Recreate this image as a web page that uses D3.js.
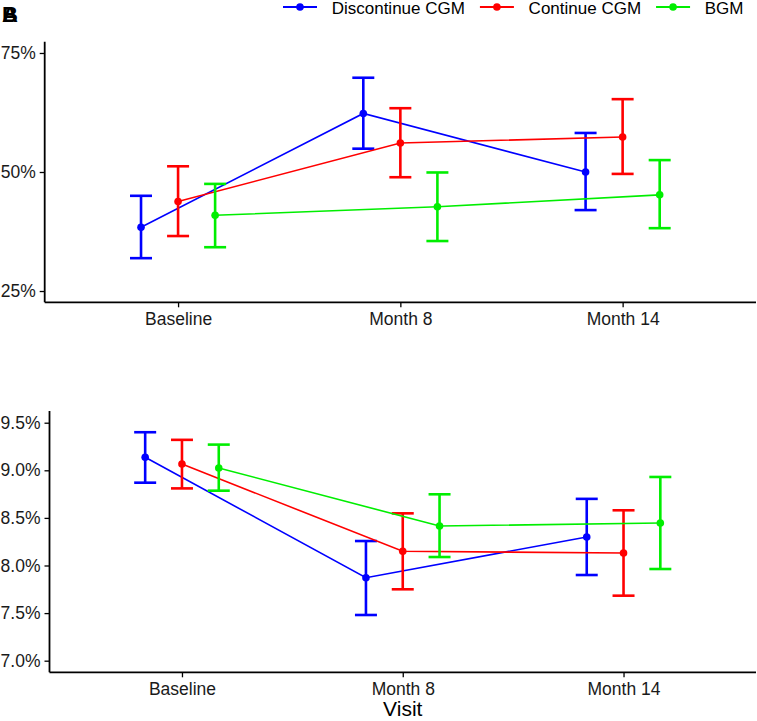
<!DOCTYPE html>
<html><head><meta charset="utf-8">
<script src="https://cdn.jsdelivr.net/npm/d3@7"></script>
<style>
html,body{margin:0;padding:0;background:#fff;}
svg{display:block;font-family:"Liberation Sans",Arial,sans-serif;}
</style></head>
<body><svg id="c" width="757" height="721"></svg>
<script>
// ---- data ----
const visits = ["Baseline", "Month 8", "Month 14"];
const seriesNames = ["Discontinue CGM", "Continue CGM", "BGM"];
const seriesColors = ["#0000ff", "#ff0000", "#00ee00"];

// Panel A: percentage (top)
const topMean  = { "Discontinue CGM": [38.4, 62.3, 50.0], "Continue CGM": [43.8, 56.1, 57.35], "BGM": [40.9, 42.7, 45.2] };
const topLower = { "Discontinue CGM": [31.9, 54.9, 42.0], "Continue CGM": [36.55, 48.9, 49.6], "BGM": [34.2, 35.5, 38.2] };
const topUpper = { "Discontinue CGM": [45.0, 69.8, 58.2], "Continue CGM": [51.2, 63.4, 65.3], "BGM": [47.5, 49.9, 52.5] };
const topTicks = [25, 50, 75];
const topTickLabels = ["25%", "50%", "75%"];

// Panel B: HbA1c (bottom)
const botMean  = { "Discontinue CGM": [9.137, 7.872, 8.30], "Continue CGM": [9.066, 8.149, 8.131], "BGM": [9.024, 8.415, 8.446] };
const botLower = { "Discontinue CGM": [8.87, 7.48, 7.90], "Continue CGM": [8.81, 7.75, 7.683], "BGM": [8.786, 8.089, 7.963] };
const botUpper = { "Discontinue CGM": [9.40, 8.257, 8.70], "Continue CGM": [9.32, 8.548, 8.58], "BGM": [9.27, 8.748, 8.93] };
const botTicks = [7.0, 7.5, 8.0, 8.5, 9.0, 9.5];
const botTickLabels = ["7.0%", "7.5%", "8.0%", "8.5%", "9.0%", "9.5%"];

const xTitle = "Visit";

const svg = d3.select("#c");
const color = d3.scaleOrdinal(seriesNames, seriesColors);

function panel(cfg) {
  const g = svg.append("g");
  const x = d3.scalePoint(visits, [cfg.left, cfg.right]).padding(0.6);
  const dodge = x.step() / 6;
  const xd = d3.scalePoint(seriesNames, [-dodge, dodge]);
  const y = d3.scaleLinear(cfg.domain, [cfg.bottom, cfg.top]);

  const ya = d3.axisLeft(y).tickValues(cfg.ticks).tickFormat((d, i) => cfg.tickLabels[i]).tickSizeInner(5).tickSizeOuter(0).tickPadding(4);
  const yg = g.append("g").attr("transform", `translate(${cfg.left},0)`).call(ya);
  const xa = d3.axisBottom(x).tickSizeInner(5).tickSizeOuter(0).tickPadding(5);
  const xg = g.append("g").attr("transform", `translate(0,${cfg.bottom})`).call(xa);
  [yg, xg].forEach(a => {
    a.select(".domain").attr("stroke", "#000").attr("stroke-width", 1.8);
    a.selectAll(".tick line").attr("stroke", "#000").attr("stroke-width", 1.3);
    a.selectAll(".tick text").attr("fill", "#1a1a1a").style("font-size", "17.5px").style("font-family", "Liberation Sans, Arial, sans-serif");
  });
  yg.select(".domain").attr("d", `M0,${cfg.top}V${cfg.bottom}`);
  xg.select(".domain").attr("d", `M${cfg.left},0H${cfg.right}`);

  const line = d3.line().x(d => d.x).y(d => d.y);
  seriesNames.forEach(s => {
    const pts = visits.map((v, i) => ({
      x: x(v) + xd(s), y: y(cfg.mean[s][i]), lo: y(cfg.lower[s][i]), hi: y(cfg.upper[s][i])
    }));
    g.append("path").attr("d", line(pts)).attr("fill", "none").attr("stroke", color(s)).attr("stroke-width", 1.6);
    const eb = g.append("g").attr("stroke", color(s)).attr("stroke-width", 2.6).attr("fill", "none");
    pts.forEach(p => {
      eb.append("line").attr("x1", p.x).attr("x2", p.x).attr("y1", p.lo).attr("y2", p.hi);
      eb.append("line").attr("x1", p.x - 11).attr("x2", p.x + 11).attr("y1", p.lo).attr("y2", p.lo);
      eb.append("line").attr("x1", p.x - 11).attr("x2", p.x + 11).attr("y1", p.hi).attr("y2", p.hi);
    });
    g.append("g").selectAll("circle").data(pts).join("circle")
      .attr("cx", d => d.x).attr("cy", d => d.y).attr("r", 3.8).attr("fill", color(s));
  });
  return { x, y };
}

panel({ left: 44.7, right: 756, top: 41.7, bottom: 302.3, domain: [22.63, 77.37],
        ticks: topTicks, tickLabels: topTickLabels, mean: topMean, lower: topLower, upper: topUpper });
panel({ left: 49.5, right: 756, top: 411, bottom: 672.3, domain: [6.878, 9.623],
        ticks: botTicks, tickLabels: botTickLabels, mean: botMean, lower: botLower, upper: botUpper });

svg.append("text").attr("x", (49.5 + 756) / 2).attr("y", 716).attr("text-anchor", "middle")
  .style("font-size", "21px").attr("fill", "#000").text(xTitle);

// panel tags (overlapping A and B as in the reference)
["A", "B"].forEach(t => {
  svg.append("text").attr("x", 2).attr("y", 22).style("font-size", "22px").style("font-weight", "bold")
    .attr("fill", "#000").text(t);
});

// legend
let lx = 283;
const ly = 7;
seriesNames.forEach(s => {
  const lg = svg.append("g");
  lg.append("line").attr("x1", lx).attr("x2", lx + 34).attr("y1", ly).attr("y2", ly).attr("stroke", color(s)).attr("stroke-width", 1.8);
  lg.append("circle").attr("cx", lx + 17).attr("cy", ly).attr("r", 3.8).attr("fill", color(s));
  const t = lg.append("text").attr("x", lx + 48.7).attr("y", ly + 6.5).style("font-size", "17px").attr("fill", "#000").text(s);
  lx = lx + 48.7 + t.node().getComputedTextLength() + 15;
});
</script></body></html>
